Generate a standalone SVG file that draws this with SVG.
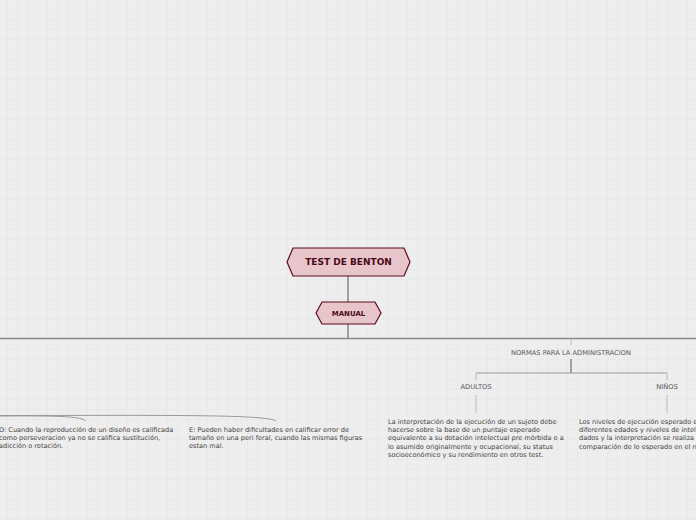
<svg xmlns="http://www.w3.org/2000/svg" width="696" height="520" viewBox="0 0 696 520">
<style>
.root{fill:#e8c5cb;stroke:#5c0a1f;stroke-width:1.2}
.rt{font-family:"DejaVu Sans",Verdana,sans-serif;font-weight:bold;fill:#4a0a18;text-anchor:middle}
.lbl{font-family:"DejaVu Sans",Verdana,sans-serif;font-size:6.7px;fill:#555;text-anchor:middle}
.txt{font-family:"DejaVu Sans",Verdana,sans-serif;font-size:6.55px;fill:#444}
.c1{stroke:#555;stroke-width:1;fill:none}
.c2{stroke:#8a8a8a;stroke-width:1.5;fill:none}
.c3{stroke:#999;stroke-width:1;fill:none}
.c4{stroke:#bbb;stroke-width:1;fill:none}
</style>
<defs>
<pattern id="grid" patternUnits="userSpaceOnUse" x="7" y="9" width="10" height="10">
<rect width="10" height="10" fill="#eeeeee"/>
<path d="M0,0 H10 M0,0 V10" stroke="#e5e5e5" stroke-width="1"/>
</pattern>
</defs>
<rect width="696" height="520" fill="url(#grid)"/>
<g id="connectors">
<path class="c1" d="M348,276 V302"/>
<path class="c1" d="M348,324 V338"/>
<path class="c2" d="M0,338.5 H696"/>
<path class="c4" d="M571,339 V345"/>
<path class="c1" d="M571,359 V373"/>
<path class="c3" d="M476,373 H667"/>
<path class="c4" d="M476,373 V380 M667,373 V380"/>
<path class="c4" d="M476,395 V413 M667,395 V413"/>
<path class="c3" d="M-5,416 C40,416 80,415 86,421"/>
<path class="c3" d="M-5,415.5 C150,415.5 268,414 276,421"/>
</g>
<g id="root">
<polygon class="root" points="287,262 293,248 404,248 410,262 404,276 293,276"/>
<text class="rt" x="348.5" y="265.2" font-size="9">TEST DE BENTON</text>
</g>
<g id="manual">
<polygon class="root" points="316,313 322,302 375,302 381,313 375,324 322,324"/>
<text class="rt" x="348.5" y="315.6" font-size="7">MANUAL</text>
</g>
<g id="normas">
<text class="lbl" x="571" y="354.6">NORMAS PARA LA ADMINISTRACION</text>
</g>
<g id="adultos">
<text class="lbl" x="476" y="388.6">ADULTOS</text>
</g>
<g id="ninos">
<text class="lbl" x="667" y="388.6">NIÑOS</text>
</g>
<g id="adultos-text">
<text class="txt" x="388" y="423.7">La interpretación de la ejecución de un sujeto debe</text>
<text class="txt" x="388" y="432">hacerse sobre la base de un puntaje esperado</text>
<text class="txt" x="388" y="440.3">equivalente a su dotación intelectual pre mórbida o a</text>
<text class="txt" x="388" y="448.6">lo asumido originalmente y ocupacional, su status</text>
<text class="txt" x="388" y="456.9">socioeconómico y su rendimiento en otros test.</text>
</g>
<g id="ninos-text">
<text class="txt" x="579" y="423.7">Los niveles de ejecución esperado e</text>
<text class="txt" x="579" y="432">diferentes edades y niveles de intel</text>
<text class="txt" x="579" y="440.3">dados y la interpretación se realiza</text>
<text class="txt" x="579" y="448.6">comparación de lo esperado en el n</text>
</g>
<g id="o-text">
<text class="txt" x="-1" y="431.7">O: Cuando la reproducción de un diseño es calificada</text>
<text class="txt" x="-1" y="440">como perseveracion ya no se califica sustitución,</text>
<text class="txt" x="-1" y="448.3">adicción o rotación.</text>
</g>
<g id="e-text">
<text class="txt" x="189" y="431.7">E: Pueden haber dificultades en calificar error de</text>
<text class="txt" x="189" y="440">tamaño en una peri feral, cuando las mismas figuras</text>
<text class="txt" x="189" y="448.3">estan mal.</text>
</g>
</svg>
